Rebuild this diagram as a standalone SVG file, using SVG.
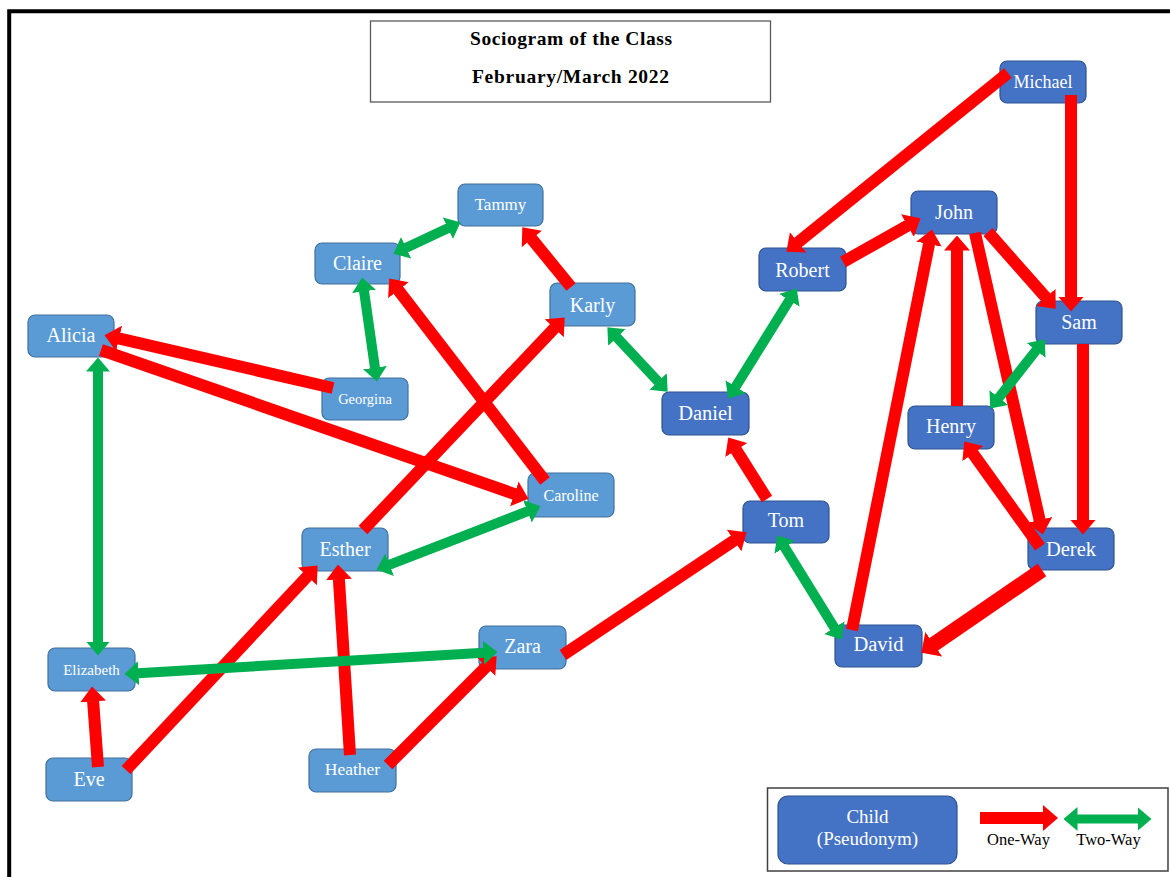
<svg xmlns="http://www.w3.org/2000/svg" width="1170" height="877" viewBox="0 0 1170 877">
  <style>
    .light { fill: #5B9BD5; stroke: #41719C; stroke-width: 1.2; }
    .dark { fill: #4472C4; stroke: #2F528F; stroke-width: 1.2; }
    .lbl { font-family: "Liberation Serif", "Times New Roman", serif; fill: #FFFFFF; text-anchor: middle; }
    .title { font-family: "Liberation Serif", "Times New Roman", serif; font-weight: bold; fill: #000000; text-anchor: middle; }
    .key { font-family: "Liberation Serif", "Times New Roman", serif; fill: #000000; text-anchor: middle; }
    .one { stroke: #FF0000; stroke-width: 12; fill: none; marker-end: url(#headRed); }
    .wide { stroke-width: 15; marker-end: url(#headRedWide); }
    .two { stroke: #00B050; stroke-width: 10; fill: none; marker-start: url(#headGreen); marker-end: url(#headGreen); }
  </style>
  <defs>
    <marker id="headRed" markerUnits="userSpaceOnUse" viewBox="0 -13 15 26" markerWidth="15" markerHeight="26" refX="0.5" refY="0" orient="auto">
      <path d="M0,-13 L15,0 L0,13 Z" fill="#FF0000"/>
    </marker>
    <marker id="headRedWide" markerUnits="userSpaceOnUse" viewBox="0 -15 15 30" markerWidth="15" markerHeight="30" refX="0.5" refY="0" orient="auto">
      <path d="M0,-15 L15,0 L0,15 Z" fill="#FF0000"/>
    </marker>
    <marker id="headGreen" markerUnits="userSpaceOnUse" viewBox="0 -12 14 24" markerWidth="14" markerHeight="24" refX="0.5" refY="0" orient="auto-start-reverse">
      <path d="M0,-12 L14,0 L0,12 Z" fill="#00B050"/>
    </marker>
  </defs>

  <rect width="1170" height="877" fill="#FFFFFF"/>
  <!-- page frame -->
  <path d="M9.2,877 V11.3 H1170" fill="none" stroke="#000000" stroke-width="4"/>

  <!-- heading -->
  <g id="title">
    <rect x="370.5" y="21" width="400" height="81" fill="#FFFFFF" stroke="#595959" stroke-width="1.3"/>
    <text class="title" x="571" y="45" font-size="19.5" textLength="202" lengthAdjust="spacing">Sociogram of the Class</text>
    <text class="title" x="570.5" y="82.5" font-size="19.5" textLength="197" lengthAdjust="spacing">February/March 2022</text>
  </g>

  <!-- children -->
  <g id="nodes">
    <g id="node-tammy"><rect class="light" x="458" y="184" width="85" height="42" rx="7"/><text class="lbl" x="500.5" y="209.5" font-size="17">Tammy</text></g>
    <g id="node-claire"><rect class="light" x="315" y="243" width="85" height="41" rx="7"/><text class="lbl" x="357.5" y="269.5" font-size="20">Claire</text></g>
    <g id="node-karly"><rect class="light" x="550" y="283" width="85" height="43" rx="7"/><text class="lbl" x="592.5" y="311.5" font-size="20">Karly</text></g>
    <g id="node-georgina"><rect class="light" x="322" y="378" width="86" height="42" rx="7"/><text class="lbl" x="365" y="403.5" font-size="14.5">Georgina</text></g>
    <g id="node-alicia"><rect class="light" x="28" y="315" width="86" height="42" rx="7"/><text class="lbl" x="71" y="342" font-size="20">Alicia</text></g>
    <g id="node-caroline"><rect class="light" x="528" y="473" width="86" height="44" rx="7"/><text class="lbl" x="571" y="500.5" font-size="16">Caroline</text></g>
    <g id="node-esther"><rect class="light" x="302" y="528" width="86" height="43" rx="7"/><text class="lbl" x="345" y="555.5" font-size="20">Esther</text></g>
    <g id="node-elizabeth"><rect class="light" x="48" y="648" width="87" height="43" rx="7"/><text class="lbl" x="91.5" y="674.5" font-size="15">Elizabeth</text></g>
    <g id="node-eve"><rect class="light" x="46" y="758" width="86" height="43" rx="7"/><text class="lbl" x="89" y="786" font-size="20">Eve</text></g>
    <g id="node-heather"><rect class="light" x="309" y="749" width="87" height="43" rx="7"/><text class="lbl" x="352.5" y="775" font-size="17.5">Heather</text></g>
    <g id="node-zara"><rect class="light" x="479" y="626" width="87" height="43" rx="7"/><text class="lbl" x="522.5" y="652.5" font-size="20">Zara</text></g>
    <g id="node-michael"><rect class="dark" x="1000" y="61" width="86" height="42" rx="7"/><text class="lbl" x="1043" y="87.5" font-size="18">Michael</text></g>
    <g id="node-john"><rect class="dark" x="911" y="191" width="86" height="43" rx="7"/><text class="lbl" x="954" y="219" font-size="20">John</text></g>
    <g id="node-sam"><rect class="dark" x="1036" y="301" width="86" height="43" rx="7"/><text class="lbl" x="1079" y="328.5" font-size="20">Sam</text></g>
    <g id="node-henry"><rect class="dark" x="908" y="406" width="86" height="43" rx="7"/><text class="lbl" x="951" y="433" font-size="20">Henry</text></g>
    <g id="node-robert"><rect class="dark" x="759" y="248" width="87" height="43" rx="7"/><text class="lbl" x="802.5" y="276.5" font-size="20">Robert</text></g>
    <g id="node-daniel"><rect class="dark" x="662" y="392" width="87" height="43" rx="7"/><text class="lbl" x="705.5" y="419.5" font-size="20.5">Daniel</text></g>
    <g id="node-tom"><rect class="dark" x="743" y="501" width="86" height="42" rx="7"/><text class="lbl" x="786" y="527" font-size="20">Tom</text></g>
    <g id="node-david"><rect class="dark" x="835" y="625" width="87" height="42" rx="7"/><text class="lbl" x="878.5" y="651" font-size="20.5">David</text></g>
    <g id="node-derek"><rect class="dark" x="1028" y="528" width="86" height="42" rx="7"/><text class="lbl" x="1071" y="555.5" font-size="20.5">Derek</text></g>
  </g>

  <!-- choices: red = one-way, green = mutual -->
  <g id="connectors">
    <line class="one" x1="1008" y1="73" x2="797.7" y2="242.6"/>
    <line class="one" x1="1071" y1="95" x2="1071" y2="297"/>
    <line class="one" x1="843" y1="262" x2="907.9" y2="225.4"/>
    <line class="one" x1="988" y1="232" x2="1046.1" y2="297.8"/>
    <line class="one" x1="957" y1="406" x2="957" y2="250"/>
    <line class="one" x1="852" y1="630" x2="929.1" y2="243.7"/>
    <line class="one" x1="975" y1="233" x2="1039.7" y2="520.4"/>
    <line class="one" x1="1083" y1="344" x2="1083" y2="520"/>
    <line class="one" x1="1040" y1="547" x2="972.7" y2="453.2"/>
    <line class="one wide" x1="1042" y1="570" x2="933.4" y2="644.5"/>
    <line class="one" x1="767" y1="499" x2="736" y2="449.7"/>
    <line class="one" x1="563" y1="655" x2="734.5" y2="540.3"/>
    <line class="one" x1="388" y1="765" x2="486.4" y2="666.6"/>
    <line class="one" x1="350" y1="755" x2="338.9" y2="579"/>
    <line class="one" x1="126" y1="770" x2="307.7" y2="576"/>
    <line class="one" x1="98" y1="767" x2="93.1" y2="701"/>
    <line class="one" x1="363" y1="530" x2="554.7" y2="327.9"/>
    <line class="one" x1="545" y1="481" x2="398.1" y2="289.9"/>
    <line class="one" x1="571" y1="287" x2="531.5" y2="238.6"/>
    <line class="one" x1="333" y1="388" x2="118.6" y2="338.4"/>
    <line class="one" x1="101" y1="350" x2="514.8" y2="494.1"/>

    <line class="two" x1="405.7" y1="248" x2="448.3" y2="228"/>
    <line class="two" x1="364" y1="290.9" x2="375" y2="368.1"/>
    <line class="two" x1="98" y1="371" x2="98" y2="642"/>
    <line class="two" x1="138" y1="673.2" x2="484" y2="652.8"/>
    <line class="two" x1="389.1" y1="564.9" x2="527.9" y2="511.1"/>
    <line class="two" x1="616.6" y1="337.2" x2="658.4" y2="381.8"/>
    <line class="two" x1="789.6" y1="299.9" x2="735.4" y2="387.1"/>
    <line class="two" x1="1036.4" y1="350" x2="998.6" y2="398"/>
    <line class="two" x1="784.4" y1="546.9" x2="834.6" y2="628.1"/>
  </g>

  <!-- key -->
  <g id="legend">
    <rect x="767.5" y="788" width="400.5" height="83" fill="#FFFFFF" stroke="#404040" stroke-width="1.5"/>
    <rect class="dark" x="778" y="796" width="179" height="68" rx="10"/>
    <text class="lbl" x="867.5" y="823" font-size="19">Child</text>
    <text class="lbl" x="867.5" y="845" font-size="19">(Pseudonym)</text>
    <line class="one" x1="980" y1="818" x2="1043.5" y2="818"/>
    <line class="two" x1="1077" y1="819" x2="1138" y2="819" style="stroke-width:9"/>
    <text class="key" x="1018.5" y="845" font-size="16.5">One-Way</text>
    <text class="key" x="1108.5" y="845" font-size="16.5">Two-Way</text>
  </g>
</svg>
